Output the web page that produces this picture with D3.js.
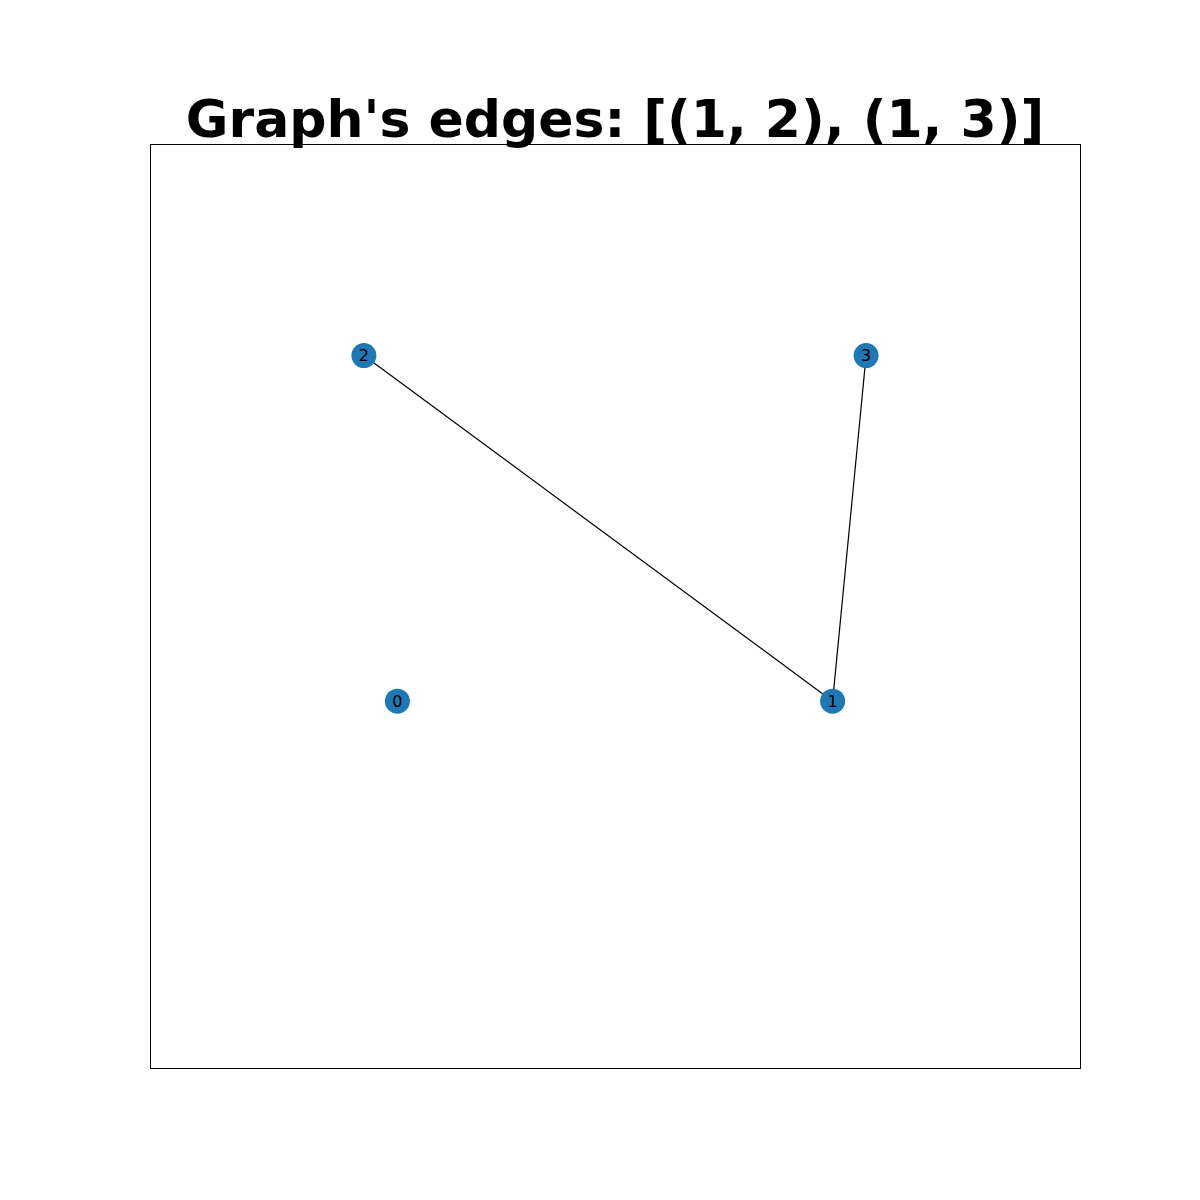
<!DOCTYPE html>
<html>
<head>
<meta charset="utf-8">
<script src="https://cdn.jsdelivr.net/npm/d3@7"></script>
<style>
  body { margin: 0; background: #fff; }
</style>
</head>
<body>
<svg id="chart" width="1200" height="1200"></svg>
<script>
// node data (axes fractions)
var nodeIds = [0, 1, 2, 3];
var nodeX = [0.266, 0.734, 0.230, 0.770];
var nodeY = [0.397, 0.397, 0.771, 0.771];
var edges = [[1, 2], [1, 3]];

var margin = {left: 150, top: 144, right: 120, bottom: 132};
var width = 1200 - margin.left - margin.right,
    height = 1200 - margin.top - margin.bottom;

var svg = d3.select('#chart');
var x = d3.scaleLinear().domain([0, 1]).range([margin.left, margin.left + width]);
var y = d3.scaleLinear().domain([0, 1]).range([margin.top + height, margin.top]);

svg.append('text')
    .attr('x', 615).attr('y', 137)
    .attr('text-anchor', 'middle')
    .style('font-family', 'DejaVu Sans')
    .style('font-weight', 'bold')
    .style('font-size', '52px')
    .text("Graph's edges: [(1, 2), (1, 3)]");

svg.append('rect')
    .attr('x', margin.left + 0.5).attr('y', margin.top + 0.5)
    .attr('width', width).attr('height', height)
    .attr('fill', 'none').attr('stroke', '#000').attr('stroke-width', 1);

svg.selectAll('line.edge').data(edges).enter().append('line')
    .attr('class', 'edge')
    .attr('x1', function(d) { return x(nodeX[d[0]]); })
    .attr('y1', function(d) { return y(nodeY[d[0]]); })
    .attr('x2', function(d) { return x(nodeX[d[1]]); })
    .attr('y2', function(d) { return y(nodeY[d[1]]); })
    .attr('stroke', '#000').attr('stroke-width', 1.2);

var nodes = svg.selectAll('g.node').data(nodeIds).enter().append('g')
    .attr('transform', function(d, i) { return 'translate(' + x(nodeX[i]) + ',' + y(nodeY[i]) + ')'; });

nodes.append('circle').attr('r', 12.5).attr('fill', '#1f77b4');
nodes.append('text')
    .attr('text-anchor', 'middle').attr('dy', '0.35em')
    .style('font-family', 'DejaVu Sans').style('font-size', '16px')
    .text(function(d) { return d; });
</script>
</body>
</html>
